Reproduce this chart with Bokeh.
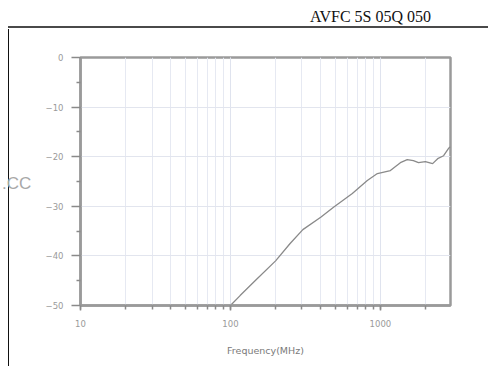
from bokeh.plotting import figure
from bokeh.models import FixedTicker, LogTicker, PrintfTickFormatter, Div
from bokeh.layouts import column, row
from bokeh.embed import file_html
from bokeh.resources import INLINE

# data
freq_mhz = [100, 116, 146, 200, 250, 304, 400, 487, 650, 818, 955, 1166,
            1359, 1510, 1660, 1795, 1995, 2230, 2410, 2640, 2850, 2935]
atten_db = [-50.0, -48.0, -45.0, -41.0, -37.5, -34.7, -32.2, -30.2, -27.4, -24.8, -23.4, -22.8,
            -21.2, -20.6, -20.8, -21.2, -21.0, -21.4, -20.4, -19.8, -18.3, -18.0]
y_ticks = [0, -10, -20, -30, -40, -50]
y_minor = [-5, -15, -25, -35, -45]
title_text = "AVFC 5S 05Q 050"
watermark_text = ".CC"
x_label = "Frequency(MHz)"

FW, FH = 467, 330
p = figure(width=FW, height=FH, x_axis_type="log", output_backend="svg",
           toolbar_location=None, x_range=(10, 2935), y_range=(-50, 0),
           min_border_left=60, min_border_right=37, min_border_top=27,
           min_border_bottom=55)
p.background_fill_color = "white"
p.border_fill_color = None
p.outline_line_color = "#9a9a9a"
p.outline_line_width = 2.5

# grids
p.xgrid.ticker = LogTicker(num_minor_ticks=10)
p.xgrid.grid_line_color = "#dfe3ee"
p.xgrid.minor_grid_line_color = "#e6e9f2"
p.ygrid.ticker = FixedTicker(ticks=y_ticks)
p.ygrid.grid_line_color = "#e2e5ee"

# axes
p.xaxis.ticker = LogTicker(num_minor_ticks=10)
p.xaxis.formatter = PrintfTickFormatter(format="%d")
p.yaxis.ticker = FixedTicker(ticks=y_ticks, minor_ticks=y_minor)
for ax in (p.xaxis[0], p.yaxis[0]):
    ax.axis_line_color = "#9a9a9a"
    ax.axis_line_width = 2.5
    ax.major_tick_line_color = "#8a8a8a"
    ax.minor_tick_line_color = "#8a8a8a"
    ax.major_tick_line_width = 1.5
    ax.minor_tick_line_width = 1.5
    ax.major_tick_in = 0
    ax.minor_tick_in = 0
    ax.major_label_text_font = "DejaVu Sans"
    ax.major_label_text_font_size = "8.5px"
    ax.major_label_text_color = "#9a9a9a"
p.yaxis.major_tick_out = 9
p.yaxis.minor_tick_out = 4
p.yaxis.major_label_standoff = 8
p.xaxis.major_tick_out = 5
p.xaxis.minor_tick_out = 4
p.xaxis.major_label_standoff = 9
p.xaxis.axis_label = x_label
p.xaxis.axis_label_text_font = "DejaVu Sans"
p.xaxis.axis_label_text_font_style = "normal"
p.xaxis.axis_label_text_font_size = "9.5px"
p.xaxis.axis_label_text_color = "#7a7a7a"
p.xaxis.axis_label_standoff = 15

p.line(freq_mhz, atten_db, line_color="#8a8a8a", line_width=1.3)

title_div = Div(
    text=('<div style="position:relative;width:477px;height:20px;">'
          '<div style="position:absolute;left:305px;top:3px;font-family:\'Liberation Serif\';'
          f'font-size:16px;line-height:18px;color:#111;white-space:nowrap">{title_text}</div>'
          '<div style="position:absolute;left:3px;top:21px;width:480px;height:2px;'
          'background:#4a4a4a"></div></div>'),
    width=477, height=20)
left_div = Div(
    text=('<div style="position:relative;width:10px;height:330px;">'
          '<div style="position:absolute;left:3px;top:-6px;width:1px;height:340px;'
          'background:#111"></div>'
          '<div style="position:absolute;left:-3px;top:139px;font-family:\'Liberation Sans\';'
          f'font-size:17px;line-height:20px;color:#a8a8a8;white-space:nowrap">{watermark_text}</div>'
          '</div>'),
    width=10, height=FH)

layout = column(title_div, row(left_div, p, spacing=0), spacing=0)
open("out.html", "w").write(file_html(layout, INLINE))
